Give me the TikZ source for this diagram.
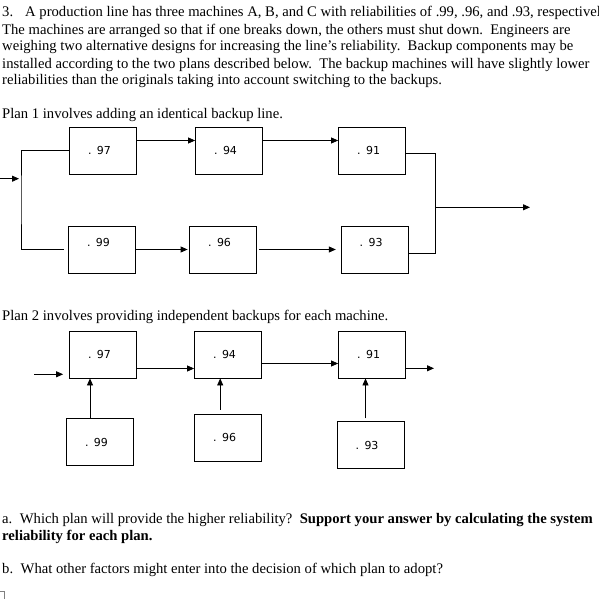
\documentclass[tikz,border=0pt]{standalone}
\usepackage{fontspec}
\setmainfont{Liberation Serif}
\newfontfamily\valfont{DejaVu Sans}
\usetikzlibrary{arrows.meta}
\begin{document}
\begin{tikzpicture}[x=1pt,y=-1pt,
	machine/.style={draw,line width=0.8pt,minimum width=67pt,minimum height=47pt,inner sep=0pt,text width=30pt,align=left,font=\valfont\fontsize{11}{13}\selectfont},
	raised/.style={text depth=14pt},
	wire/.style={line width=0.8pt},
	flow/.style={line width=0.8pt,-{Triangle[length=7pt,width=6pt]}},
	txt/.style={inner sep=0pt,anchor=base west,align=left,font=\fontsize{14.65}{17}\selectfont}]

	\useasboundingbox (0,0) rectangle (598,599);

	% question text
	\node[txt] (intro) at (2,85) {3.\hspace{12pt}A production line has three machines A, B, and C with reliabilities of .99, .96, and .93, respectively.\\
	The machines are arranged so that if one breaks down, the others must shut down.\ \ Engineers are\\
	weighing two alternative designs for increasing the line’s reliability.\ \ Backup components may be\\
	installed according to the two plans described below.\ \ The backup machines will have slightly lower\\
	reliabilities than the originals taking into account switching to the backups.};
	\node[txt] (plan1) at (2,118) {Plan 1 involves adding an identical backup line.};

	% plan 1
	\node[machine] (p1a) at (103,150.5) {. 97};
	\node[machine] (p1b) at (229,150.5) {. 94};
	\node[machine] (p1c) at (372,150.5) {. 91};
	\node[machine,raised] (p1d) at (102,249.5) {. 99};
	\node[machine,raised] (p1e) at (223,249.5) {. 96};
	\node[machine,raised] (p1f) at (374.7,249.5) {. 93};

	\coordinate (in1) at (0,178.7);
	\coordinate (fork) at (21,200);
	\coordinate (join) at (435.3,207.3);
	\coordinate (out1) at (530,207.3);

	\draw[flow,shorten >=2pt] (in1) -- (in1 -| fork);
	\draw[wire] (p1a.west) -| (fork) |- ([xshift=-4pt]p1d.west);
	\draw[flow] ([yshift=10pt]p1a.east) -- ([yshift=10pt]p1b.west);
	\draw[flow] ([yshift=10pt]p1b.east) -- ([yshift=10pt]p1c.west);
	\draw[flow,shorten >=1.5pt] (p1d.east) -- (p1e.west);
	\draw[flow,shorten <=2.5pt,shorten >=5pt] (p1e.east) -- (p1f.west);
	\draw[wire] ([yshift=-3pt]p1c.east) -| (join) |- ([yshift=-4pt]p1f.east);
	\draw[flow] (join) -- (out1);

	\node[txt] (plan2) at (2,320) {Plan 2 involves providing independent backups for each machine.};

	% plan 2
	\node[machine] (q1a) at (103,354.5) {. 97};
	\node[machine] (q1b) at (228,354.5) {. 94};
	\node[machine] (q1c) at (372,354.5) {. 91};
	\node[machine] (q2a) at (100,442.3) {. 99};
	\node[machine] (q2b) at (228.2,437.5) {. 96};
	\node[machine] (q2c) at (370.5,445.3) {. 93};

	\coordinate (in2) at (34,374.3);
	\coordinate (out2) at (434,368.3);

	\draw[flow,shorten >=6pt] (in2) -- (in2 -| q1a.west);
	\draw[flow] ([yshift=-14pt]q1a.east) -- ([yshift=-14pt]q1b.west);
	\draw[flow] ([yshift=-9pt]q1b.east) -- ([yshift=-9pt]q1c.west);
	\draw[flow] (out2 -| q1c.east) -- (out2);
	\draw[flow] ([xshift=-10pt]q2a.north) -- ([xshift=-10pt]q2a.north |- q1a.south);
	\draw[flow] ([shift={(-8pt,4pt)}]q2b.north) -- ([xshift=-8pt]q2b.north |- q1b.south);
	\draw[flow] ([shift={(-5pt,3pt)}]q2c.north) -- ([xshift=-5pt]q2c.north |- q1c.south);

	% questions
	\node[txt] (qa) at (2,523.5) {a.\hspace{7.5pt}Which plan will provide the higher reliability?\ \ \textbf{Support your answer by calculating the system}};
	\node[txt] (qa2) at (2,540.5) {\textbf{reliability for each plan.}};
	\node[txt] (qb) at (2,573.5) {b.\hspace{7.5pt}What other factors might enter into the decision of which plan to adopt?};

	\draw[gray,line width=0.5pt] (0,591) -- (4,591) -- (4,599);

\end{tikzpicture}
\end{document}
